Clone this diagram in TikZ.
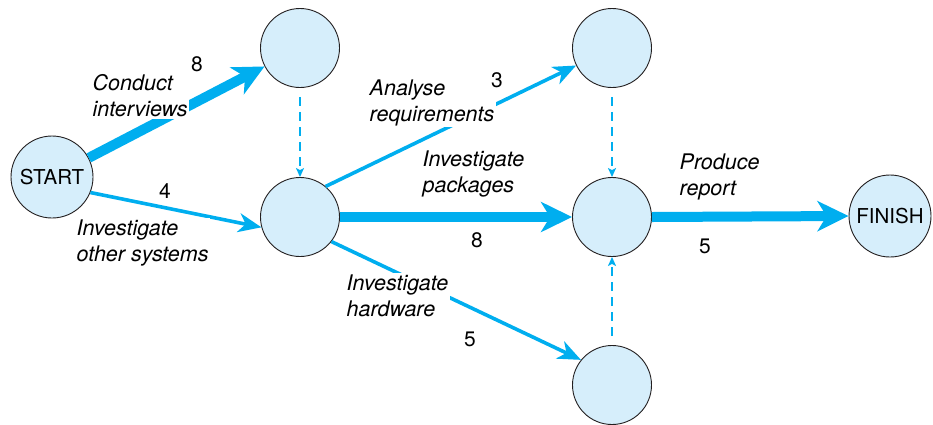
\documentclass[tikz,border=0pt]{standalone}
\usepackage{fontspec}
\setmainfont{TeX Gyre Heros}
\usetikzlibrary{arrows.meta}
\definecolor{netblue}{HTML}{00AEEF}
\definecolor{netfill}{HTML}{D6EEFB}
\definecolor{netline}{HTML}{231F20}
\begin{document}
\begin{tikzpicture}[x=1pt,y=-1pt,
  event/.style={circle,draw=netline,line width=0.9pt,fill=netfill,minimum size=79pt,inner sep=0pt,font=\fontsize{20.5}{21}\selectfont},
  thickact/.style={draw=netblue,line width=10pt,-{Stealth[length=31pt,width=30pt,inset=9pt]}},
  thinact/.style={draw=netblue,line width=3.6pt,-{Stealth[length=23pt,width=19pt,inset=7pt]}},
  dummy/.style={draw=netblue,line width=1.4pt,dash pattern=on 9pt off 6pt,shorten <=9pt,-{Stealth[length=9pt,width=8pt,inset=2pt]}},
  actlabel/.style={fill=white,inner sep=1.5pt,align=left,anchor=north west,font=\fontsize{21.5}{26}\selectfont\itshape},
  durlabel/.style={inner sep=0pt,font=\fontsize{21}{21}\selectfont}]
\useasboundingbox (0,0) rectangle (933,424);
% events
\node[event,minimum size=82pt] (start) at (52,177) {START};
\node[event] (a) at (300,48) {};
\node[event] (b) at (300,217) {};
\node[event] (c) at (612,48) {};
\node[event] (d) at (612,217) {};
\node[event] (e) at (612,385) {};
\node[event,minimum size=82pt] (finish) at (890,216) {FINISH};
% activities
\draw[thickact] (start) -- (a);
\draw[thinact] (start.-22) -- (b.195);
\draw[thinact] (b.50) -- (c.206);
\draw[thickact] (b.east) -- (d.west);
\draw[thinact] (b.-38) -- (e.141);
\draw[thickact] (d.east) -- (finish.west);
% dummies
\draw[dummy] (a.south) -- (b.north);
\draw[dummy] (c.south) -- (d.north);
\draw[dummy] (e.north) -- (d.south);
% labels
\node[actlabel] (lci) at (91,73) {Conduct\\interviews};
\node[actlabel] (lios) at (75,218) {Investigate\\other systems};
\node[actlabel] (lar) at (368,78) {Analyse\\requirements};
\node[actlabel] (lip) at (421,149) {Investigate\\packages};
\node[actlabel] (lpr) at (678,152) {Produce\\report};
\node[actlabel] (lih) at (345,273) {Investigate\\hardware};
\node[durlabel] (d1) at (197,64) {8};
\node[durlabel] (d2) at (165,191) {4};
\node[durlabel] (d3) at (497,80) {3};
\node[durlabel] (d4) at (477,240) {8};
\node[durlabel] (d5) at (705,246) {5};
\node[durlabel] (d6) at (470,339) {5};
\end{tikzpicture}
\end{document}
